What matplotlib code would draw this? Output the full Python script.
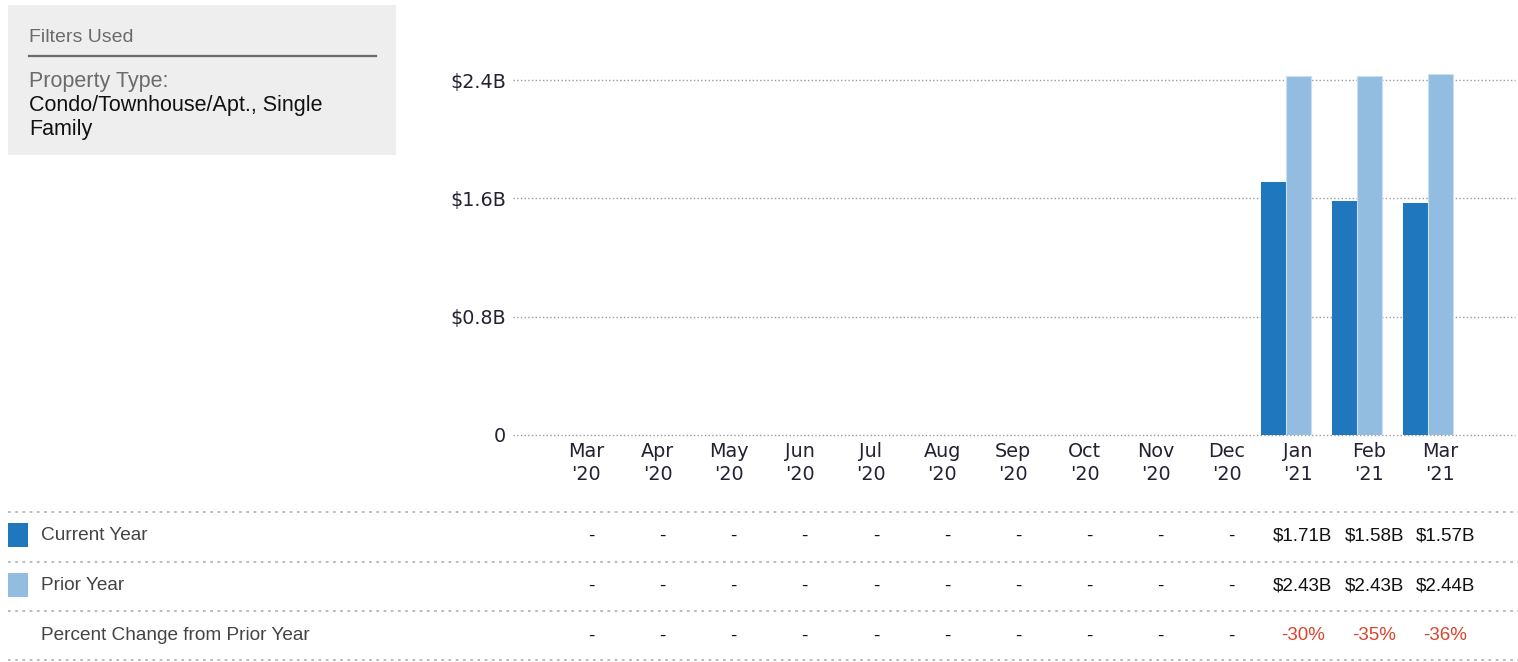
import matplotlib
matplotlib.use('Agg')
import matplotlib.pyplot as plt
import matplotlib.transforms as mtransforms
from matplotlib.patches import Rectangle
from matplotlib.lines import Line2D
import numpy as np

# data (billions of dollars)
months = ["Mar\n'20", "Apr\n'20", "May\n'20", "Jun\n'20", "Jul\n'20", "Aug\n'20",
          "Sep\n'20", "Oct\n'20", "Nov\n'20", "Dec\n'20", "Jan\n'21", "Feb\n'21", "Mar\n'21"]
current_year = [np.nan] * 10 + [1.71, 1.58, 1.57]
prior_year = [np.nan] * 10 + [2.43, 2.43, 2.44]
yticks = [0, 0.8, 1.6, 2.4]
ytick_labels = ['0', '$0.8B', '$1.6B', '$2.4B']

c_cur = '#1f78be'
c_pri = '#92bde0'
W, H = 1518, 662

fig = plt.figure(figsize=(W / 100, H / 100), dpi=100)

def fy(py):
    return 1 - py / H

ax = fig.add_axes([513 / W, fy(435), (1515 - 513) / W, (435 - 50) / H])
x = np.arange(len(months))
bw = 0.355
ax.bar(x - 0.525, current_year, width=bw, align='edge', color=c_cur, zorder=3)
ax.bar(x - 0.525 + bw, prior_year, width=bw, align='edge', color=c_pri,
       edgecolor='#c9def0', linewidth=0.8, zorder=3)

ax.set_xlim(-1.03, 13.05)
ax.set_ylim(0, 2.603)
for v in yticks:
    ax.axhline(v, color='#9a9a9a', linestyle=':', linewidth=1.0, zorder=1, clip_on=False)
ax.set_yticks(yticks)
ax.set_yticklabels(ytick_labels, fontsize=13.8, color='#222233', family='DejaVu Sans')
ax.set_xticks(x)
ax.set_xticklabels(months, fontsize=13.8, color='#222233', family='DejaVu Sans',
                   linespacing=1.3)
ax.tick_params(length=0, pad=5)
ax.tick_params(axis='y', pad=5)
for s in ax.spines.values():
    s.set_visible(False)

# filters box
fig.patches.append(Rectangle((8 / W, fy(155)), 388 / W, 150 / H, transform=fig.transFigure,
                             facecolor='#eeeeee', edgecolor='none', zorder=0))
fig.lines.append(Line2D([29 / W, 376 / W], [fy(56), fy(56)], transform=fig.transFigure,
                        color='#6b6b6b', linewidth=1.6))
sans = 'Liberation Sans'
fig.text(29 / W, fy(38), 'Filters Used', fontsize=14, color='#6b6b6b', family=sans, va='center')
fig.text(29 / W, fy(82), 'Property Type:', fontsize=15.5, color='#6b6b6b', family=sans, va='center')
fig.text(29 / W, fy(106), 'Condo/Townhouse/Apt., Single', fontsize=15.5, color='#111111',
         family=sans, va='center')
fig.text(29 / W, fy(129), 'Family', fontsize=15.5, color='#111111', family=sans, va='center')

# table below the chart
for py in [512, 562, 611, 660]:
    fig.lines.append(Line2D([8 / W, 1 - 0.5 / W], [fy(py), fy(py)], transform=fig.transFigure,
                            color='#b5b5b5', linestyle=(0, (1.5, 2.5)), linewidth=1.3))

fig.patches.append(Rectangle((8 / W, fy(547)), 20 / W, 24 / H, transform=fig.transFigure,
                             facecolor=c_cur, edgecolor='none'))
fig.patches.append(Rectangle((8 / W, fy(597)), 20 / W, 24 / H, transform=fig.transFigure,
                             facecolor=c_pri, edgecolor='none'))
row_y = [536, 586, 636]
row_names = ['Current Year', 'Prior Year', 'Percent Change from Prior Year']
for py, name in zip(row_y, row_names):
    fig.text(41 / W, fy(py), name, fontsize=13.7, color='#444444', family=sans, va='center')

trans = mtransforms.blended_transform_factory(ax.transData, fig.transFigure)
off = 0.07
for i in range(len(months)):
    c, p = current_year[i], prior_year[i]
    if np.isnan(c):
        cells = ['-', '-', '-']
        cols = ['#111111'] * 3
    else:
        pct = (c - p) / p * 100
        cells = ['$%.2fB' % c, '$%.2fB' % p, '%d%%' % round(pct)]
        cols = ['#111111', '#111111', '#d9452e']
    for py, t, col in zip(row_y, cells, cols):
        fig.text(i + off, fy(py), t, transform=trans, fontsize=13.5, color=col,
                 family=sans, ha='center', va='center')

fig.savefig('out.png', dpi=100)
